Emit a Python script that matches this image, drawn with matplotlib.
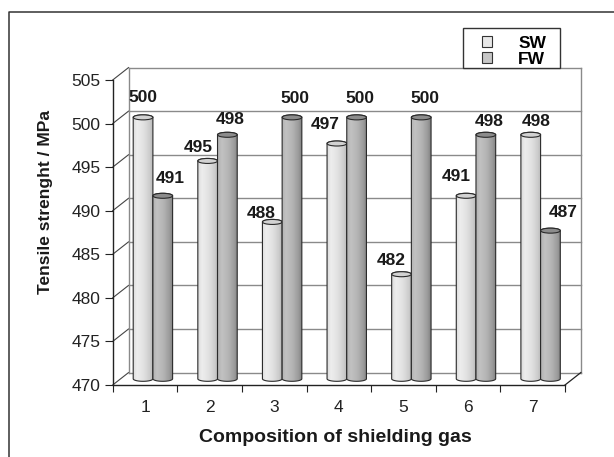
import matplotlib.pyplot as plt
import numpy as np
from matplotlib.patches import Ellipse, PathPatch, Patch, Rectangle
from matplotlib.path import Path
from matplotlib.lines import Line2D

plt.rcParams['font.family'] = ['Liberation Sans', 'DejaVu Sans']

gases = ['1', '2', '3', '4', '5', '6', '7']
sw = [500, 495, 488, 497, 482, 491, 498]
fw = [491, 498, 500, 500, 500, 498, 487]
y_ticks = [470, 475, 480, 485, 490, 495, 500, 505]

# nudges (pixels) for the value labels above each cylinder
sw_lab_dx = [0, -9, -11, -12, -10, -10, 5]
sw_lab_dy = [20, 13, 8, 19, 14, 19, 13]
fw_lab_dx = [7, 3, 3, 3, 4, 3, 13]
fw_lab_dy = [17, 15, 19, 19, 19, 13, 18]

W, H = 614, 457
fig = plt.figure(figsize=(W / 100, H / 100), dpi=100)

# front plane of the plot box in pixels
L, R, B, T = 112.7, 565, 385, 80
ax = fig.add_axes([L / W, 1 - B / H, (R - L) / W, (B - T) / H])
ymin, ymax = 470, 505

px_x = (R - L) / len(gases)
px_y = (B - T) / (ymax - ymin)
dx = 15.8 / px_x   # depth offset of back wall, data units
dy = 12.4 / px_y
bw = 19.7 / px_x   # cylinder width
eh = 5.0 / px_y    # ellipse height

grid_c = '#8a8a8a'
x_lo, x_hi = 0.5, len(gases) + 0.5

# back wall grid + left wall diagonals
for v in y_ticks:
    ax.plot([x_lo + dx, x_hi + dx], [v + dy, v + dy], color=grid_c, lw=1.0,
            clip_on=False, zorder=1)
    ax.plot([x_lo, x_lo + dx], [v, v + dy], color='#444444', lw=0.8,
            clip_on=False, zorder=1)
for xv in (x_lo + dx, x_hi + dx):
    ax.plot([xv, xv], [ymin + dy, ymax + dy], color=grid_c, lw=1.0,
            clip_on=False, zorder=1)
ax.plot([x_hi, x_hi + dx], [ymin, ymin + dy], color='#222222', lw=0.9,
        clip_on=False, zorder=1)

sw_prof = ([0, 0.2, 0.55, 0.85, 1], [0.86, 0.93, 0.88, 0.80, 0.72])
fw_prof = ([0, 0.2, 0.55, 0.85, 1], [0.70, 0.76, 0.70, 0.60, 0.50])


def cylinder(cx, top, prof, top_color, z):
    bot = ymin + dy / 2
    t = np.linspace(np.pi, 2 * np.pi, 40)
    lower = np.column_stack([cx + bw / 2 * np.cos(t), bot + eh / 2 * np.sin(t)])
    t2 = np.linspace(0, np.pi, 40)
    upper = np.column_stack([cx + bw / 2 * np.cos(t2), top + eh / 2 * np.sin(t2)])
    verts = np.vstack([[cx - bw / 2, top], lower, [cx + bw / 2, top], upper,
                       [cx - bw / 2, top]])
    body = PathPatch(Path(verts), facecolor='none', edgecolor='#2a2a2a',
                     lw=0.8, zorder=z + 0.2)
    ax.add_patch(body)
    s = np.linspace(0, 1, 64)
    grad = np.interp(s, *prof)[np.newaxis, :]
    img = ax.imshow(grad, extent=[cx - bw / 2, cx + bw / 2, bot - eh, top + eh],
                    cmap='gray', vmin=0, vmax=1, aspect='auto',
                    interpolation='bilinear', zorder=z)
    img.set_clip_path(body)
    ax.add_patch(Ellipse((cx, top), bw, eh, facecolor=top_color,
                         edgecolor='#2a2a2a', lw=0.8, zorder=z + 0.3))


for i in range(len(gases)):
    xc = i + 1 + dx / 2
    cs = xc - bw / 2
    cf = xc + bw / 2
    cylinder(cs, sw[i] + dy / 2, sw_prof, '#d2d2d2', 3 + i)
    cylinder(cf, fw[i] + dy / 2, fw_prof, '#8c8c8c', 3.5 + i)
    ax.annotate(str(sw[i]), xy=(cs, sw[i] + dy / 2),
                xytext=(sw_lab_dx[i], sw_lab_dy[i]), textcoords='offset pixels',
                ha='center', va='center', fontsize=12.5, fontweight='bold',
                color='#1a1a1a', zorder=20, annotation_clip=False)
    ax.annotate(str(fw[i]), xy=(cf, fw[i] + dy / 2),
                xytext=(fw_lab_dx[i], fw_lab_dy[i]), textcoords='offset pixels',
                ha='center', va='center', fontsize=12.5, fontweight='bold',
                color='#1a1a1a', zorder=20, annotation_clip=False)

ax.set_xlim(x_lo, x_hi)
ax.set_ylim(ymin, ymax)
ax.patch.set_visible(False)
for side in ('top', 'right'):
    ax.spines[side].set_visible(False)
for side in ('left', 'bottom'):
    ax.spines[side].set_color('#222222')
    ax.spines[side].set_linewidth(1.0)

ax.set_yticks(y_ticks)
ax.tick_params(axis='y', direction='out', length=5.8, width=0.8,
               labelsize=12.5, pad=3, colors='#222222')
ax.set_xticks(np.arange(x_lo, x_hi + 0.01, 1))
ax.set_xticklabels([])
ax.tick_params(axis='x', which='major', direction='out', length=5, width=0.8,
               colors='#222222')
ax.set_xticks(np.arange(1, len(gases) + 1), minor=True)
ax.set_xticklabels(gases, minor=True)
ax.tick_params(axis='x', which='minor', length=0, labelsize=12.5, pad=11,
               colors='#222222')

fig.text(46 / W, 1 - 201.5 / H, 'Tensile strenght / MPa', rotation=90,
         ha='center', va='center', fontsize=12.5, fontweight='bold', color='#1a1a1a')
fig.text(335 / W, 1 - 437 / H, 'Composition of shielding gas',
         ha='center', va='center', fontsize=14, fontweight='bold', color='#1a1a1a')

# legend box
fig.add_artist(Rectangle((462.7 / W, 1 - 67.7 / H), (560.3 - 462.7) / W,
                         (67.7 - 28.3) / H, transform=fig.transFigure,
                         facecolor='white', edgecolor='#333333', lw=1.0, zorder=5))
handles = [Patch(facecolor='#e8e8e8', edgecolor='#333333', lw=0.8),
           Patch(facecolor='#c6c6c6', edgecolor='#333333', lw=0.8)]
leg = fig.legend(handles, ['SW', 'FW'], loc='upper left',
                 bbox_to_anchor=(482 / W, 1 - 35.5 / H), frameon=False,
                 prop={'size': 12.5, 'weight': 'bold'}, handlelength=0.58,
                 handleheight=0.58, handletextpad=1.5, labelspacing=0.08,
                 borderpad=0, borderaxespad=0)
leg.set_zorder(6)

# outer frame
fig.add_artist(Line2D([9.3 / W, 9.3 / W, 1], [0, 1 - 11.7 / H, 1 - 11.7 / H],
                      color='#333333', lw=1.1))

fig.savefig('out.png', dpi=100)
